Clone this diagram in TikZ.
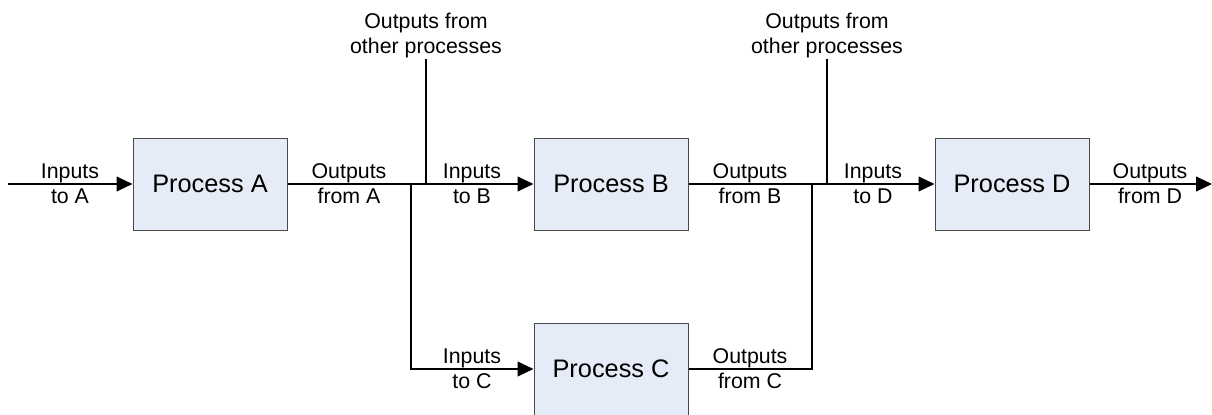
\documentclass[tikz,border=0pt]{standalone}
\usepackage{fontspec}
\setmainfont{Liberation Sans}
\usetikzlibrary{arrows.meta}
\definecolor{procfill}{HTML}{E6ECF7}
\definecolor{procline}{HTML}{4A4A4A}
\tikzset{
  proc/.style={rectangle, draw=procline, fill=procfill, line width=0.75pt,
               minimum width=115.5pt, minimum height=69pt, inner sep=0pt,
               font=\fontsize{19}{22}\selectfont},
  ln/.style={draw=black, line width=1.5pt},                            % plain flow line
  fl/.style={ln, -{Triangle[length=12pt, width=11pt]}},               % flow into a box
  lbl/.style={align=center, inner sep=1pt, font=\fontsize{16}{18.75}\selectfont},
}

\begin{document}
\begin{tikzpicture}[x=0.75pt, y=0.75pt]
  \clip (0,0) rectangle (1212,-414);
  % ---------------- processes ----------------
  \node[proc] (pa) at (210,-184) {Process A};
  \node[proc] (pb) at (611,-184) {Process B};
  \node[proc] (pc) at (611,-369) {Process C};
  \node[proc] (pd) at (1012,-184) {Process D};
  % ---------------- free ends and junctions ----------------
  \coordinate (ina)  at (8,-184);
  \coordinate (outd) at (1212,-184);
  \coordinate (j1)   at (411,-184);
  \coordinate (j2)   at (812,-184);
  \coordinate (m1)   at (426,-184);
  \coordinate (m2)   at (827,-184);
  \node[lbl] (op1) at (426,-35) {Outputs from\\other processes};
  \node[lbl] (op2) at (827,-35) {Outputs from\\other processes};
  % ---------------- flows ----------------
  \draw[fl] (ina) -- (pa);
  \draw[ln] (pa) -- (j1);
  \draw[fl] (j1) -- (pb);
  \draw[fl] (j1) |- (pc);
  \draw[ln] (op1) -- (m1);
  \draw[ln] (pb) -- (j2);
  \draw[ln] (pc) -| (j2);
  \draw[fl] (j2) -- (pd);
  \draw[ln] (op2) -- (m2);
  \draw[fl] (pd) -- (outd);
  % ---------------- flow labels ----------------
  \node[lbl] (la)  at (70,-184)   {Inputs\\to A};
  \node[lbl] (lao) at (349,-184)  {Outputs\\from A};
  \node[lbl] (lb)  at (472,-184)  {Inputs\\to B};
  \node[lbl] (lc)  at (472,-369)  {Inputs\\to C};
  \node[lbl] (lbo) at (750,-184)  {Outputs\\from B};
  \node[lbl] (lco) at (750,-369)  {Outputs\\from C};
  \node[lbl] (ld)  at (873,-184)  {Inputs\\to D};
  \node[lbl] (ldo) at (1150,-184) {Outputs\\from D};
\end{tikzpicture}
\end{document}
